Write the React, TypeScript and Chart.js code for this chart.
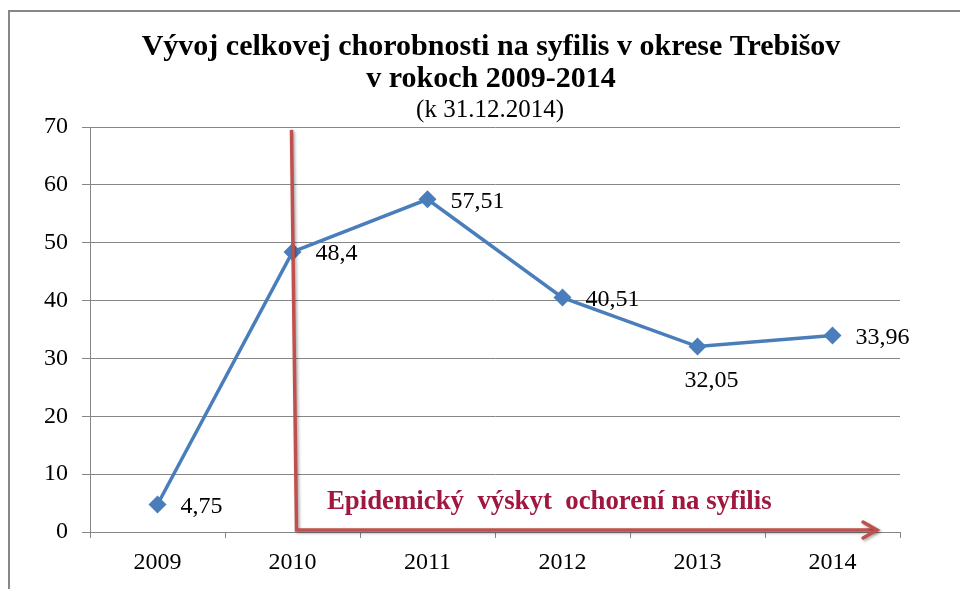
import React, { useEffect, useRef } from "react";
import { Chart, registerables } from "chart.js";

Chart.register(...registerables);

const years = ["2009", "2010", "2011", "2012", "2013", "2014"];
const rates = [4.75, 48.4, 57.51, 40.51, 32.05, 33.96];
const rateLabels = ["4,75", "48,4", "57,51", "40,51", "32,05", "33,96"];
const titleLines = ["Vývoj celkovej chorobnosti na syfilis v okrese Trebišov", "v rokoch 2009-2014"];
const subtitle = "(k 31.12.2014)";
const annotationText = "Epidemický  výskyt  ochorení na syfilis";
const yMin = 0;
const yMax = 70;
const yStep = 10;

const FONT = "'Liberation Serif', 'Times New Roman', serif";
const BLUE = "#4a7ebb";
const RED = "#c0504d";

const overlay = {
  id: "overlay",
  afterDraw(chart: any) {
    const ctx = chart.ctx;
    const x = chart.scales.x;
    const y = chart.scales.y;
    ctx.save();
    // frame
    ctx.strokeStyle = "#878787";
    ctx.lineWidth = 2;
    ctx.beginPath();
    ctx.moveTo(9, 589);
    ctx.lineTo(9, 11);
    ctx.lineTo(960, 11);
    ctx.stroke();
    // title
    ctx.fillStyle = "#000";
    ctx.textAlign = "center";
    ctx.textBaseline = "middle";
    ctx.font = "bold 30px " + FONT;
    ctx.fillText(titleLines[0], 491, 47);
    ctx.fillText(titleLines[1], 491, 79);
    ctx.font = "25px " + FONT;
    ctx.fillText(subtitle, 490, 110);

    // data labels
    const meta = chart.getDatasetMeta(0);
    ctx.font = "24px " + FONT;
    meta.data.forEach((pt: any, i: number) => {
      if (i === 4) {
        ctx.textAlign = "center";
        ctx.fillText(rateLabels[i], pt.x + 14, pt.y + 34);
      } else {
        ctx.textAlign = "left";
        ctx.fillText(rateLabels[i], pt.x + 23, pt.y + 2);
      }
    });

    // red arrows
    const x0 = x.getPixelForValue(1);
    const yTop = y.getPixelForValue(69.5);
    const yBase = y.getPixelForValue(0) - 2;
    const tipX = x.right - 23;
    ctx.shadowColor = "rgba(0,0,0,0.35)";
    ctx.shadowBlur = 3;
    ctx.shadowOffsetX = 1.5;
    ctx.shadowOffsetY = 1.5;
    ctx.strokeStyle = RED;
    ctx.lineWidth = 3.5;
    ctx.lineCap = "butt";
    ctx.lineJoin = "miter";
    ctx.beginPath();
    ctx.moveTo(x0 - 1, yTop);
    ctx.lineTo(x0 + 4, yBase);
    ctx.lineTo(tipX - 2, yBase);
    ctx.stroke();
    ctx.lineCap = "round";
    ctx.beginPath();
    ctx.moveTo(tipX - 14, yBase - 8);
    ctx.lineTo(tipX, yBase);
    ctx.lineTo(tipX - 14, yBase + 8);
    ctx.stroke();
    ctx.shadowColor = "transparent";
    // annotation text
    ctx.fillStyle = "#a0173f";
    ctx.font = "bold 26.8px " + FONT;
    ctx.textAlign = "left";
    ctx.fillText(annotationText, 327, 502);
    ctx.restore();
  },
};

export default function App() {
  const ref = useRef<HTMLCanvasElement>(null);
  useEffect(() => {
    const chart = new Chart(ref.current as HTMLCanvasElement, {
      type: "line",
      data: {
        labels: years,
        datasets: [
          {
            data: rates,
            borderColor: BLUE,
            backgroundColor: BLUE,
            borderWidth: 3.5,
            pointStyle: "rectRot",
            pointRadius: 9,
            pointBackgroundColor: BLUE,
            pointBorderColor: BLUE,
            pointBorderWidth: 0,
            tension: 0,
          },
        ],
      },
      options: {
        animation: false,
        responsive: false,
        layout: { padding: { left: 0, top: 127, right: 60, bottom: 17 } },
        plugins: { legend: { display: false }, tooltip: { enabled: false }, title: { display: false } },
        scales: {
          x: {
            offset: true,
            grid: { offset: true, drawOnChartArea: false, drawTicks: true, tickLength: 6, color: "#868686" },
            border: { color: "#868686", width: 1 },
            ticks: { color: "#000", font: { family: FONT, size: 24 }, padding: 10 },
            afterFit: (s: any) => { s.height = 40; },
          },
          y: {
            min: yMin,
            max: yMax,
            ticks: { stepSize: yStep, color: "#000", font: { family: FONT, size: 24 }, padding: 14 },
            grid: { color: "#868686", lineWidth: 1, tickLength: 8 },
            border: { color: "#868686", width: 1 },
            afterFit: (s: any) => { s.width = 90; },
          },
        },
      },
      plugins: [overlay],
    });
    return () => chart.destroy();
  }, []);
  return (
    <div style={{ position: "fixed", left: 0, top: 0, width: 960, height: 589, background: "#fff" }}>
      <canvas ref={ref} width={960} height={589} style={{ display: "block" }} />
    </div>
  );
}
